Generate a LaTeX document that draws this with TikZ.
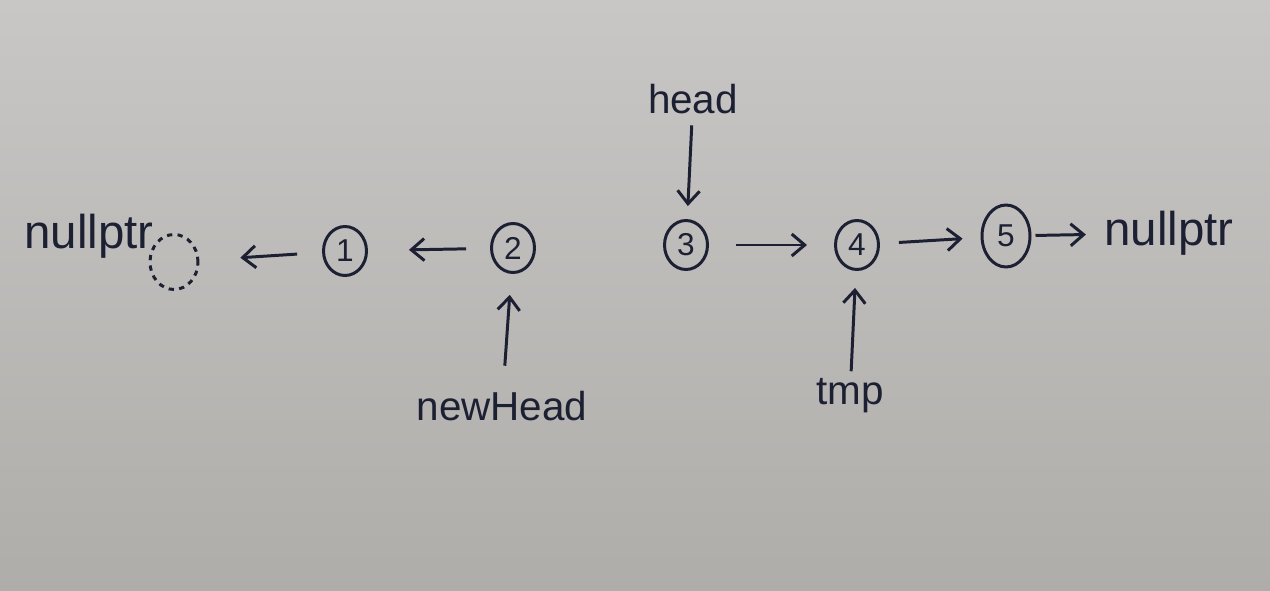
\documentclass[tikz,border=0pt]{standalone}
\usepackage{fontspec}
\setmainfont{Liberation Sans}
\usetikzlibrary{arrows.meta,shapes.geometric}
\definecolor{ink}{RGB}{28,32,50}
\definecolor{papertop}{RGB}{200,199,197}
\definecolor{paperbot}{RGB}{174,173,170}

\begin{document}
\begin{tikzpicture}[x=0.02cm, y=-0.02cm, line width=1.7pt,
	elem/.style={draw=ink, ellipse, inner sep=0pt, minimum width=0.86cm, minimum height=0.98cm, text=ink, font=\fontsize{18}{20}\selectfont},
	ptr/.style={text=ink, inner sep=0pt, font=\fontsize{23}{26}\selectfont},
	nul/.style={text=ink, inner sep=0pt, font=\fontsize{27}{30}\selectfont},
	link/.style={draw=ink, -{Straight Barb[length=2.6mm,width=4.4mm]}}]
	\fill[top color=papertop, bottom color=paperbot] (0,0) rectangle (1270,591);
	% list nodes
	\node (n1) [elem] at (345, 251) {1};
	\node (n2) [elem] at (513, 248) {2};
	\node (n3) [elem] at (686, 245) {3};
	\node (n4) [elem] at (857, 245) {4};
	\node (n5) [elem, minimum width=0.96cm, minimum height=1.24cm] at (1006, 236) {5};
	% null ends
	\node (nulc) [draw=ink, ellipse, dash pattern=on 3pt off 3pt, minimum width=0.96cm, minimum height=1.1cm] at (174, 262) {};
	\node (nullL) [nul] at (89, 236) {nullptr};
	\node (nullR) [nul] at (1169, 233) {nullptr};
	% pointers
	\node (head) [ptr] at (693, 99) {head};
	\node (newhead) [ptr] at (502, 406) {newHead};
	\node (tmp) [ptr] at (850, 396) {tmp};
	\draw[link, shorten <=0.5cm, shorten >=0.82cm] (n1) -- (nulc);
	\draw[link, shorten <=0.48cm, shorten >=0.82cm] (n2) -- (n1);
	\draw[link, shorten <=0.54cm, shorten >=0.54cm] (n3) -- (n4);
	\draw[link, shorten <=0.38cm, shorten >=0.36cm] (n4) -- (n5);
	\draw[link, shorten <=0.08cm, shorten >=0.34cm] (n5) -- (nullR);
	\draw[link, shorten <=0.2cm, shorten >=0.26cm] (head) -- (n3);
	\draw[link, shorten <=0.48cm, shorten >=0.42cm] (newhead) -- (n2);
	\draw[link, shorten <=0.12cm, shorten >=0.34cm] (tmp) -- (n4);
\end{tikzpicture}
\end{document}
